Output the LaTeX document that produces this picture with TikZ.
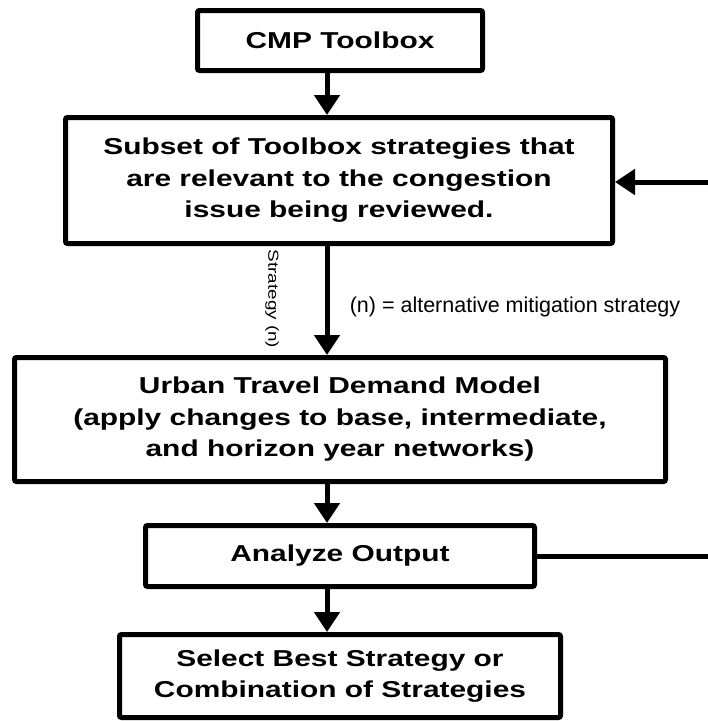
\documentclass[tikz,border=0pt]{standalone}
\usepackage{fontspec}
\setmainfont{Liberation Sans}
\newfontfamily\widefont[FakeStretch=1.3]{Liberation Sans}
\usetikzlibrary{arrows.meta}

\begin{document}
\begin{tikzpicture}[x=1pt,y=-1pt,
    box/.style={draw,line width=5pt,rounded corners=2pt,align=center,inner sep=0pt,
      font=\widefont\bfseries\fontsize{23}{31.5}\selectfont},
    arr/.style={line width=5pt,-{Triangle[length=20pt,width=25pt]}},
    feed/.style={line width=5pt}]
\useasboundingbox (0,0) rectangle (708,721);

\node[box,minimum width=285pt,minimum height=60pt] (toolbox) at (340,40.5) {CMP Toolbox};
\node[box,minimum width=547pt,minimum height=126pt] (subset) at (339,180.5)
  {Subset of Toolbox strategies that\\are relevant to the congestion\\issue being reviewed.};
\node[box,minimum width=651pt,minimum height=124pt] (model) at (340,419.5)
  {Urban Travel Demand Model\\(apply changes to base, intermediate,\\and horizon year networks)};
\node[box,minimum width=389pt,minimum height=61pt] (analyze) at (340,556) {Analyze Output};
\node[box,minimum width=441pt,minimum height=83pt] (select) at (340,676)
  {Select Best Strategy or\\Combination of Strategies};

% flow down
\draw[arr] ([xshift=-13pt]toolbox.south) -- ([xshift=-12pt]subset.north);
\draw[arr] ([xshift=-12pt]subset.south) -- ([xshift=-13pt]model.north);
\draw[arr] ([xshift=-13pt]model.south) -- ([xshift=-13pt]analyze.north);
\draw[arr] ([xshift=-13pt]analyze.south) -- ([xshift=-13pt]select.north);

% loop back
\coordinate (backin) at (708,182);
\coordinate (backout) at (708,556);
\draw[arr] (backin) -- (backin -| subset.east);
\draw[feed] (analyze.east) -- (backout);

\node[rotate=-90,font=\widefont\fontsize{14.5}{16}\selectfont] (strat) at (272,299) {Strategy (n)};
\node[font=\fontsize{21.5}{24}\selectfont] (note) at (515,307) {(n) = alternative mitigation strategy};
\end{tikzpicture}
\end{document}
